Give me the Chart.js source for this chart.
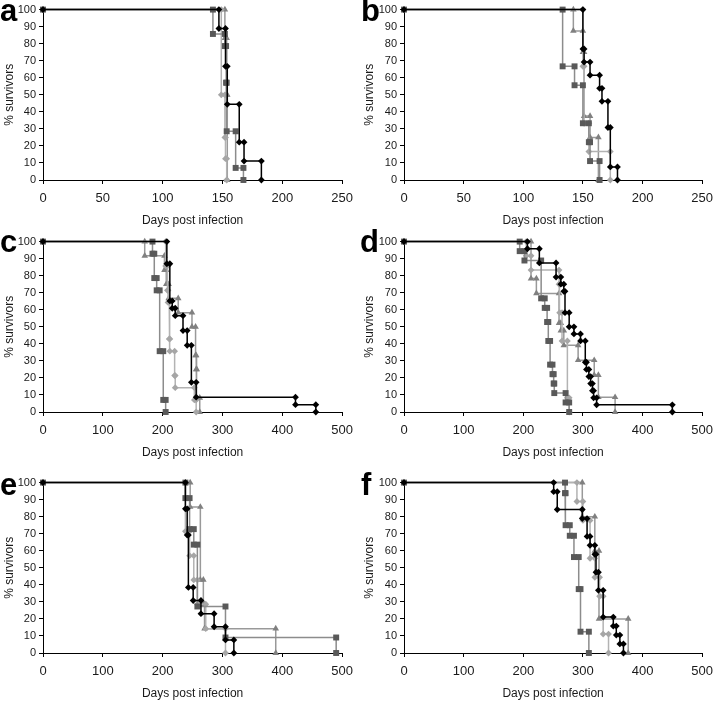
<!DOCTYPE html>
<html>
<head>
<meta charset="utf-8">
<script src="https://cdn.jsdelivr.net/npm/chart.js@4.4.1/dist/chart.umd.min.js"></script>
<style>
  body { margin: 0; background: #fff; }
  #fig { position: relative; width: 720px; height: 701px; overflow: hidden; }
  .panel { position: absolute; width: 360px; height: 230px; }
  .letter { position: absolute; font: bold 31px 'Liberation Sans', Arial, sans-serif; line-height: 32px; color: #000; }
</style>
</head>
<body>
<div id="fig">
  <div class="panel" style="left:0;top:0"><canvas id="a" width="360" height="230"></canvas></div>
  <div class="panel" style="left:360px;top:0"><canvas id="b" width="360" height="230"></canvas></div>
  <div class="panel" style="left:0;top:232px"><canvas id="c" width="360" height="230"></canvas></div>
  <div class="panel" style="left:360px;top:232px"><canvas id="d" width="360" height="230"></canvas></div>
  <div class="panel" style="left:0;top:473px"><canvas id="e" width="360" height="230"></canvas></div>
  <div class="panel" style="left:360px;top:473px"><canvas id="f" width="360" height="230"></canvas></div>
  <div class="letter" style="left:0;top:-5px">a</div>
  <div class="letter" style="left:361px;top:-5px">b</div>
  <div class="letter" style="left:0;top:226px">c</div>
  <div class="letter" style="left:360px;top:226px">d</div>
  <div class="letter" style="left:0;top:469px">e</div>
  <div class="letter" style="left:361px;top:469px">f</div>
</div>
<script>
// event days and survival (%) after each event, per group and panel
const aBlackDays = [147, 152.5, 154, 164, 168, 182.5];
const aBlackSurv = [88.9, 66.7, 44.4, 22.2, 11.1, 0];
const aSquareDays = [142, 152, 153, 153.5, 161, 167.5];
const aSquareSurv = [85.7, 78.6, 57.1, 28.6, 7.1, 0];
const aDiamondDays = [149, 152, 152.5, 153.5];
const aDiamondSurv = [50, 25, 12.5, 0];
const aTriangleDays = [152, 153.5, 154];
const aTriangleSurv = [83.3, 50, 0];

const bBlackDays = [150, 151, 156, 164, 166, 171, 173, 179];
const bBlackSurv = [76.9, 69.2, 61.5, 53.8, 46.2, 30.8, 7.7, 0];
const bSquareDays = [133, 143, 150, 155, 156, 164];
const bSquareSurv = [66.7, 55.6, 33.3, 22.2, 11.1, 0];
const bDiamondDays = [150, 151, 155, 173];
const bDiamondSurv = [66.7, 33.3, 16.7, 0];
const bTriangleDays = [142, 150, 151, 156, 163];
const bTriangleSurv = [87.5, 75, 37.5, 25, 0];

const cBlackDays = [207, 212, 216, 221, 234, 241, 248, 256, 422, 456];
const cBlackSurv = [87, 65.2, 60.9, 56.5, 47.8, 39.1, 17.4, 8.7, 4.3, 0];
const cSquareDays = [183, 186, 190, 195, 201, 205];
const cSquareSurv = [92.9, 78.6, 71.4, 35.7, 7.1, 0];
const cDiamondDays = [205, 208, 209, 211, 212, 220, 221, 253, 256];
const cDiamondSurv = [85.7, 71.4, 64.3, 42.9, 35.7, 21.4, 14.3, 7.1, 0];
const cTriangleDays = [170, 203, 206, 210, 226, 249, 255, 256, 257, 262];
const cTriangleSurv = [91.7, 83.3, 75, 66.7, 58.3, 50, 33.3, 25, 8.3, 0];

const dBlackDays = [207, 227, 255, 263, 268, 270, 277, 285, 296, 304, 306, 310, 313, 316, 318, 323, 450];
const dBlackSurv = [95.8, 87.5, 79.2, 75, 70.8, 58.3, 50, 45.8, 41.7, 29.2, 25, 20.8, 16.7, 12.5, 8.3, 4.2, 0];
const dSquareDays = [194, 202, 230, 236, 240, 242, 245, 249, 251, 252, 271, 277];
const dSquareSurv = [94.4, 88.9, 66.7, 61.1, 52.8, 41.7, 27.8, 22.2, 16.7, 11.1, 5.6, 0];
const dDiamondDays = [205, 213, 260, 261, 265, 274, 277];
const dDiamondSurv = [91.7, 83.3, 75, 58.3, 41.7, 8.3, 0];
const dTriangleDays = [213, 222, 260, 263, 268, 292, 319, 326, 354];
const dTriangleSurv = [78.3, 69.6, 52.2, 47.8, 39.1, 30.4, 21.7, 8.7, 0];

const eBlackDays = [238, 241, 243, 251, 264, 286, 305, 319];
const eBlackSurv = [84.6, 69.2, 38.5, 30.8, 23.1, 15.4, 7.7, 0];
const eSquareDays = [238, 245, 252, 258, 305, 490];
const eSquareSurv = [90.9, 72.7, 63.6, 27.3, 9.1, 0];
const eDiamondDays = [238, 245, 252, 258, 272, 305];
const eDiamondSurv = [71.4, 57.1, 42.9, 28.6, 14.3, 0];
const eTriangleDays = [246, 263, 268, 270, 389];
const eTriangleSurv = [85.7, 42.9, 28.6, 14.3, 0];

const fBlackDays = [251, 257, 299, 307, 312, 320, 322, 326, 334, 351, 356, 362, 368];
const fBlackSurv = [94.7, 84.2, 78.9, 68.4, 63.2, 57.9, 47.4, 36.8, 21.1, 15.8, 10.5, 5.3, 0];
const fSquareDays = [270, 271, 278, 285, 293, 296, 310];
const fSquareSurv = [93.8, 75, 68.8, 56.3, 37.5, 12.5, 0];
const fDiamondDays = [290, 300, 312, 320, 328, 334, 343];
const fDiamondSurv = [88.9, 77.8, 55.6, 44.4, 33.3, 11.1, 0];
const fTriangleDays = [299, 320, 327, 376];
const fTriangleSurv = [80, 60, 20, 0];

const yTicks = [0, 10, 20, 30, 40, 50, 60, 70, 80, 90, 100];

Chart.defaults.font.family = "'Liberation Sans Narrow', 'Liberation Sans', Arial, sans-serif";
Chart.defaults.color = '#1a1a1a';

// Kaplan-Meier staircase: a corner before and after every drop
function steps(days, surv) {
    let pts = [{x: 0, y: 100}];
    let prev = 100;
    days.forEach((d, i) => {
        pts.push({x: d, y: prev});
        pts.push({x: d, y: surv[i]});
        prev = surv[i];
    });
    return pts;
}

function group(days, surv, style, color, line, r) {
    return {
        data: steps(days, surv),
        borderColor: line,
        borderWidth: 1.5,
        backgroundColor: color,
        pointBackgroundColor: color,
        pointBorderColor: color,
        pointBorderWidth: 0,
        pointStyle: style,
        pointRadius: r,
        fill: false,
        tension: 0,
        clip: false,
    };
}

function panel(id, xMax, xStep, yWidth, padRight, g) {
    new Chart(document.getElementById(id), {
        type: 'line',
        data: {
            datasets: [
                group(g[0], g[1], 'rectRot', '#000000', '#000000', 3.4),
                group(g[2], g[3], 'rect', '#595959', '#8c8c8c', 4.2),
                group(g[4], g[5], 'rectRot', '#a6a6a6', '#b3b3b3', 3.4),
                group(g[6], g[7], 'triangle', '#808080', '#999999', 3.8),
            ]
        },
        options: {
            responsive: false,
            animation: false,
            events: [],
            layout: {padding: {top: 9, right: padRight, bottom: 0, left: 0}},
            plugins: {legend: {display: false}, tooltip: {enabled: false}},
            scales: {
                x: {
                    type: 'linear',
                    min: 0,
                    max: xMax,
                    ticks: {stepSize: xStep, padding: 7, font: {size: 13}},
                    grid: {drawOnChartArea: false, drawTicks: true, tickLength: 4, color: '#000'},
                    border: {color: '#000'},
                    title: {display: true, text: 'Days post infection', font: {size: 12}, padding: {top: 0, bottom: 2}},
                    afterFit: s => { s.height = 50; },
                },
                y: {
                    min: 0,
                    max: 100,
                    afterBuildTicks: s => { s.ticks = yTicks.map(v => ({value: v})); },
                    ticks: {padding: 3, autoSkip: false, font: {size: 11}},
                    grid: {drawOnChartArea: false, drawTicks: true, tickLength: 4, color: '#000'},
                    border: {color: '#000'},
                    title: {display: true, text: '% survivors', font: {size: 12}, padding: {top: 2, bottom: 0}},
                    afterFit: s => { s.width = yWidth; },
                }
            }
        }
    });
}

panel('a', 250, 50, 43, 11, [aBlackDays, aBlackSurv, aSquareDays, aSquareSurv, aDiamondDays, aDiamondSurv, aTriangleDays, aTriangleSurv]);
panel('b', 250, 50, 44, 13, [bBlackDays, bBlackSurv, bSquareDays, bSquareSurv, bDiamondDays, bDiamondSurv, bTriangleDays, bTriangleSurv]);
panel('c', 500, 100, 43, 11, [cBlackDays, cBlackSurv, cSquareDays, cSquareSurv, cDiamondDays, cDiamondSurv, cTriangleDays, cTriangleSurv]);
panel('d', 500, 100, 44, 13, [dBlackDays, dBlackSurv, dSquareDays, dSquareSurv, dDiamondDays, dDiamondSurv, dTriangleDays, dTriangleSurv]);
panel('e', 500, 100, 43, 11, [eBlackDays, eBlackSurv, eSquareDays, eSquareSurv, eDiamondDays, eDiamondSurv, eTriangleDays, eTriangleSurv]);
panel('f', 500, 100, 44, 13, [fBlackDays, fBlackSurv, fSquareDays, fSquareSurv, fDiamondDays, fDiamondSurv, fTriangleDays, fTriangleSurv]);
</script>
</body>
</html>
